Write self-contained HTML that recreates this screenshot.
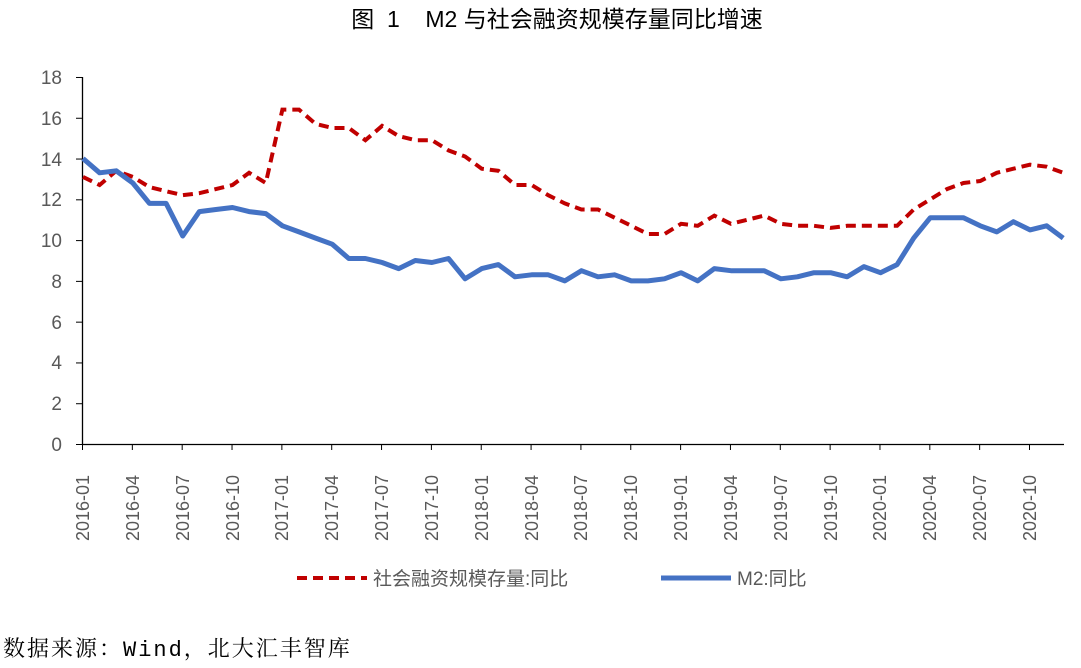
<!DOCTYPE html>
<html><head><meta charset="utf-8"><style>
body{margin:0;background:#fff;}
svg text{font-family:"Liberation Sans","Noto Sans CJK SC",sans-serif;}
.xl{position:absolute;top:541px;transform:rotate(-90deg);transform-origin:0 0;white-space:nowrap;font-size:18px;line-height:18px}
</style></head><body>
<svg id="s" width="1081" height="663" xmlns="http://www.w3.org/2000/svg">
<text x="557" y="27" font-size="23" text-anchor="middle" fill="#000" xml:space="preserve">图  1    M2 与社会融资规模存量同比增速</text>
<g font-size="19" fill="#595959" text-anchor="end">
<text x="62" y="451">0</text><text x="62" y="410">2</text><text x="62" y="369">4</text><text x="62" y="329">6</text><text x="62" y="288">8</text><text x="62" y="247">10</text><text x="62" y="206">12</text><text x="62" y="166">14</text><text x="62" y="125">16</text><text x="62" y="84">18</text>
</g>
<g stroke="#000" stroke-width="1.3">
<line x1="82.5" y1="77" x2="82.5" y2="445"/>
<line x1="82" y1="444.5" x2="1064" y2="444.5"/>
</g>
<g id="ticks" stroke="#000" stroke-width="1"></g>
<path id="sf" fill="none" stroke="#C00000" stroke-width="4" stroke-dasharray="10,6"/>
<path id="m2" fill="none" stroke="#4472C4" stroke-width="5" stroke-linejoin="round"/>
<line x1="297" y1="578" x2="367" y2="578" stroke="#C00000" stroke-width="4" stroke-dasharray="10,6"/>
<text x="373" y="585" font-size="19" fill="#595959">社会融资规模存量:同比</text>
<line x1="661" y1="578" x2="731" y2="578" stroke="#4472C4" stroke-width="5"/>
<text x="737" y="585" font-size="19" fill="#595959">M2:同比</text>
<text x="3" y="656" font-size="22" letter-spacing="2" fill="#000" style="font-family:'Liberation Mono','Noto Serif CJK SC',serif">数据来源：Wind，北大汇丰智库</text>
</svg>
<script>
var m2=[14.0,13.3,13.4,12.8,11.8,11.8,10.2,11.4,11.5,11.6,11.4,11.3,
10.7,10.4,10.1,9.8,9.1,9.1,8.9,8.6,9.0,8.9,9.1,8.1,
8.6,8.8,8.2,8.3,8.3,8.0,8.5,8.2,8.3,8.0,8.0,8.1,
8.4,8.0,8.6,8.5,8.5,8.5,8.1,8.2,8.4,8.4,8.2,8.7,
8.4,8.8,10.1,11.1,11.1,11.1,10.7,10.4,10.9,10.5,10.7,10.1];
var sf=[13.1,12.7,13.4,13.1,12.6,12.4,12.2,12.3,12.5,12.7,13.3,12.8,
16.4,16.4,15.7,15.5,15.5,14.9,15.6,15.1,14.9,14.9,14.4,14.1,
13.5,13.4,12.7,12.7,12.2,11.8,11.5,11.5,11.1,10.7,10.3,10.3,
10.8,10.7,11.2,10.8,11.0,11.2,10.8,10.7,10.7,10.6,10.7,10.7,
10.7,10.7,11.5,12.0,12.5,12.8,12.9,13.3,13.5,13.7,13.6,13.3];
function X(i){return 83+i*16.614;}function Y(v){return 444-v*20.39;}
function P(a){return a.map(function(v,i){return (i?'L':'M')+X(i).toFixed(1)+','+Y(v).toFixed(1);}).join('');}
document.getElementById('m2').setAttribute('d',P(m2));
document.getElementById('sf').setAttribute('d',P(sf));
var t='';for(var i=0;i<60;i+=3){t+='<line x1="'+(X(i)-0.5)+'" y1="444" x2="'+(X(i)-0.5)+'" y2="450"/>';}
for(var k=0;k<=9;k++){t+='<line x1="76" y1="'+(Y(2*k)+0.5)+'" x2="82" y2="'+(Y(2*k)+0.5)+'"/>';}
document.getElementById('ticks').innerHTML=t;
</script>
<div style="position:absolute;left:0;top:0;width:1081px;height:663px;pointer-events:none;font-family:'Liberation Sans',sans-serif;color:#595959">
<span class="xl" style="left:74px">2016-01</span>
<span class="xl" style="left:124px">2016-04</span>
<span class="xl" style="left:174px">2016-07</span>
<span class="xl" style="left:224px">2016-10</span>
<span class="xl" style="left:273px">2017-01</span>
<span class="xl" style="left:323px">2017-04</span>
<span class="xl" style="left:373px">2017-07</span>
<span class="xl" style="left:423px">2017-10</span>
<span class="xl" style="left:473px">2018-01</span>
<span class="xl" style="left:523px">2018-04</span>
<span class="xl" style="left:572px">2018-07</span>
<span class="xl" style="left:622px">2018-10</span>
<span class="xl" style="left:672px">2019-01</span>
<span class="xl" style="left:722px">2019-04</span>
<span class="xl" style="left:772px">2019-07</span>
<span class="xl" style="left:822px">2019-10</span>
<span class="xl" style="left:871px">2020-01</span>
<span class="xl" style="left:921px">2020-04</span>
<span class="xl" style="left:971px">2020-07</span>
<span class="xl" style="left:1021px">2020-10</span>
</div>
</body></html>
